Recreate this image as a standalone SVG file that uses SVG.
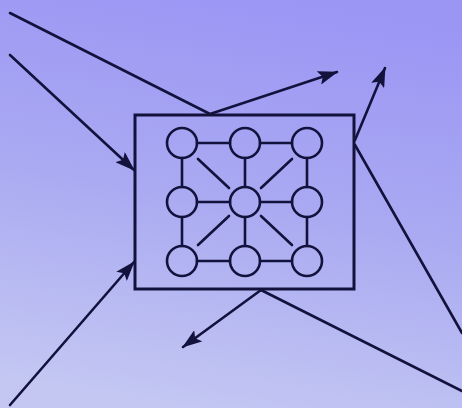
<svg xmlns="http://www.w3.org/2000/svg" width="462" height="408" viewBox="0 0 462 408">
<defs>
<linearGradient id="bg" x1="0.6" y1="0" x2="0.4" y2="1">
<stop offset="0" stop-color="#9b96f4"/>
<stop offset="0.5" stop-color="#aaaaf2"/>
<stop offset="1" stop-color="#c3c7f2"/>
</linearGradient>
<marker id="ah" viewBox="0 0 20 14" refX="19" refY="7" markerWidth="20" markerHeight="14" markerUnits="userSpaceOnUse" orient="auto">
<path d="M0,0 L20,7 L0,14 L4,7 Z" fill="#12123c"/>
</marker>
</defs>
<style>
.ln{stroke:#12123c;stroke-width:2.6;fill:none;stroke-linecap:round;stroke-linejoin:round}
.nd{stroke:#12123c;stroke-width:2.6;fill:none}
.box{stroke:#12123c;stroke-width:3;fill:none}
</style>
<rect width="462" height="408" fill="url(#bg)"/>
<g id="connectors">
<polyline class="ln" points="10,13 210,114 337,72" marker-end="url(#ah)"/>
<line class="ln" x1="10" y1="55" x2="134" y2="170" marker-end="url(#ah)"/>
<line class="ln" x1="355" y1="140" x2="385" y2="68" marker-end="url(#ah)"/>
<line class="ln" x1="355" y1="145" x2="462" y2="333"/>
<line class="ln" x1="10" y1="405" x2="134" y2="262" marker-end="url(#ah)"/>
<line class="ln" x1="261" y1="290" x2="183" y2="347" marker-end="url(#ah)"/>
<line class="ln" x1="261" y1="290" x2="462" y2="391"/>
</g>
<g id="system">
<rect class="box" x="135" y="115" width="219" height="174"/>
<g id="links">
<line class="ln" x1="197" y1="143" x2="230" y2="143"/>
<line class="ln" x1="260" y1="143" x2="292" y2="143"/>
<line class="ln" x1="197" y1="202" x2="230" y2="202"/>
<line class="ln" x1="260" y1="202" x2="292" y2="202"/>
<line class="ln" x1="197" y1="261" x2="230" y2="261"/>
<line class="ln" x1="260" y1="261" x2="292" y2="261"/>
<line class="ln" x1="182" y1="158" x2="182" y2="187"/>
<line class="ln" x1="182" y1="217" x2="182" y2="246"/>
<line class="ln" x1="245" y1="158" x2="245" y2="187"/>
<line class="ln" x1="245" y1="217" x2="245" y2="246"/>
<line class="ln" x1="307" y1="158" x2="307" y2="187"/>
<line class="ln" x1="307" y1="217" x2="307" y2="246"/>
<line class="ln" x1="198" y1="159" x2="229" y2="188"/>
<line class="ln" x1="292" y1="159" x2="261" y2="188"/>
<line class="ln" x1="198" y1="245" x2="229" y2="216"/>
<line class="ln" x1="292" y1="245" x2="261" y2="216"/>
</g>
<g id="n11"><circle class="nd" cx="182" cy="143" r="15"/></g>
<g id="n12"><circle class="nd" cx="245" cy="143" r="15"/></g>
<g id="n13"><circle class="nd" cx="307" cy="143" r="15"/></g>
<g id="n21"><circle class="nd" cx="182" cy="202" r="15"/></g>
<g id="n22"><circle class="nd" cx="245" cy="202" r="15"/></g>
<g id="n23"><circle class="nd" cx="307" cy="202" r="15"/></g>
<g id="n31"><circle class="nd" cx="182" cy="261" r="15"/></g>
<g id="n32"><circle class="nd" cx="245" cy="261" r="15"/></g>
<g id="n33"><circle class="nd" cx="307" cy="261" r="15"/></g>
</g>
</svg>
